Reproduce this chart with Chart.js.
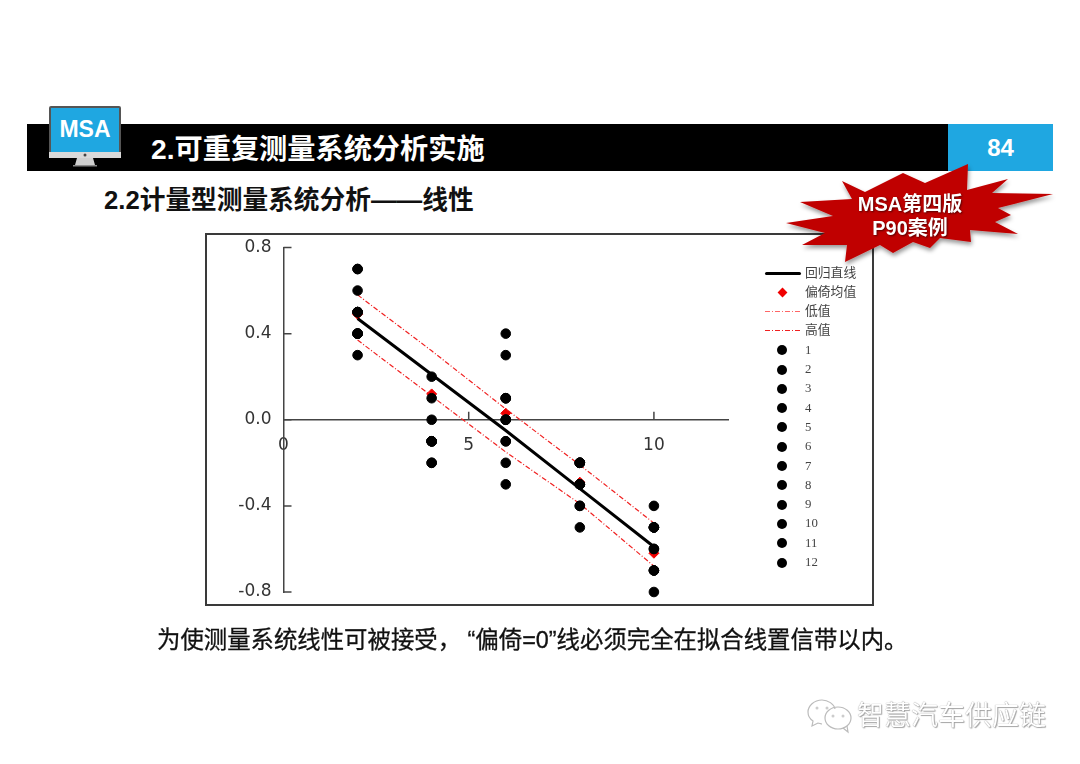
<!DOCTYPE html>
<html lang="zh">
<head>
<meta charset="utf-8">
<title>MSA 线性</title>
<script src="https://cdn.jsdelivr.net/npm/chart.js@4"></script>
<style>
    html, body { margin: 0; padding: 0; background: #fff; }
    body { width: 1080px; height: 764px; position: relative; overflow: hidden; font-family: "Liberation Sans", "Noto Sans CJK SC", sans-serif; }
    .abs { position: absolute; white-space: nowrap; }
    .bar { left: 27px; top: 124px; width: 921px; height: 47px; background: #000; }
    .page { left: 948px; top: 124px; width: 105px; height: 47px; background: #1fa7e1; color: #fff; font-size: 24px; font-weight: bold; line-height: 48px; text-align: center; }
    .title { left: 151px; top: 129px; color: #fff; font-size: 28.2px; font-weight: bold; line-height: 40px; }
    .sub { left: 104px; top: 183px; color: #111; font-size: 25.7px; font-weight: bold; line-height: 34px; }
    .note { left: 157px; top: 624px; color: #111; font-size: 23.4px; line-height: 32px; -webkit-text-stroke: 0.3px #111; }
    .mark { left: 857px; top: 698px; color: #fff; font-size: 27px; line-height: 36px; text-shadow: 0 0 1px #777, 1px 1px 1px #aaa; }
    .msa { left: 51px; top: 114px; width: 68px; color: #fff; font-size: 23px; font-weight: bold; line-height: 30px; text-align: center; }
    .star { left: 850px; top: 192px; width: 120px; color: #fff; font-size: 20px; font-weight: bold; line-height: 24px; text-align: center; text-shadow: 1px 1px 2px #500; }
    #frame { left: 205px; top: 233px; width: 669px; height: 373px; box-sizing: border-box; border: 2px solid #3a3a3a; background: #fff; }
    #frame canvas { position: absolute; left: -2px; top: -2px; }
    .lg { position: absolute; left: 760px; width: 110px; height: 19px; color: #444; font-size: 12.8px; line-height: 19px; font-family: "Liberation Serif", "Noto Sans CJK SC", serif; }
    .lg span { position: absolute; left: 45px; top: 0; }
    .lg i, .lg svg { position: absolute; display: block; }
</style>
</head>
<body>
<div class="abs bar"></div>
<div class="abs page">84</div>
<svg class="abs" style="left:0;top:0" width="1080" height="764">
    <rect x="49" y="106" width="72" height="52" rx="2" fill="#555"/>
    <rect x="51" y="108" width="68" height="44" fill="#1fa7e1"/>
    <rect x="49" y="152" width="72" height="6" fill="#d9d9d9"/>
    <circle cx="85" cy="155" r="1.5" fill="#444"/>
    <path d="M77 158h16l2 7h-20z" fill="#cfcfcf"/>
    <rect x="73" y="165" width="24" height="1.5" fill="#888"/>
    <g fill="none" stroke="#bbb" stroke-width="1.2">
        <path d="M822 700c-8 0-14 6-14 12 0 4 2 7 5 9l-1 5 6-3c1 0 3 1 4 1"/>
        <path d="M822 700c6 0 12 4 13 9"/>
        <ellipse cx="838" cy="718" rx="13" ry="11"/>
        <path d="M843 728l5 4-1-6"/>
    </g>
    <g fill="#ccc">
        <circle cx="817" cy="708" r="1.5"/><circle cx="827" cy="708" r="1.5"/>
        <circle cx="833" cy="716" r="1.5"/><circle cx="843" cy="716" r="1.5"/>
    </g>
</svg>
<div class="abs msa">MSA</div>
<div class="abs title">2.可重复测量系统分析实施</div>
<div class="abs sub">2.2计量型测量系统分析——线性</div>
<div id="frame" class="abs"><canvas id="c1" width="669" height="373"></canvas></div>
<svg class="abs" style="left:0;top:0;pointer-events:none" width="1080" height="764">
    <defs><filter id="sh" x="-10%" y="-10%" width="120%" height="130%"><feDropShadow dx="1" dy="3" stdDeviation="2" flood-color="#000" flood-opacity="0.4"/></filter></defs>
    <polygon filter="url(#sh)" fill="#c00000" points="842,181 865,192 903,173 925,183 968,164 967,190 1008,179 992,193 1053,194 998,208 1011,215 995,222 1018,234 970,230 971,242 940,238 930,248 913,242 893,253 880,245 845,262 847,245 802,245 825,233 786,223 833,216 800,202 852,199"/>
</svg>
<div class="abs star">MSA第四版<br>P90案例</div>
<div id="legend"></div>
<div class="abs note">为使测量系统线性可被接受， “偏倚=0”线必须完全在拟合线置信带以内。</div>
<div class="abs mark">智慧汽车供应链</div>

<script>
const parts = [2, 4, 6, 8, 10];

// one list per trial, values at parts 2,4,6,8,10. null = off the visible axis range
const trial1 = [0.7, null, -0.2, -0.4, null];
const trial2 = [0.5, -0.1, -0.3, -0.3, -0.7];
const trial3 = [0.4, 0.2, -0.1, -0.2, -0.5];
const trial4 = [0.5, null, -0.1, -0.3, -0.7];
const trial5 = [0.7, -0.2, 0.0, -0.2, -0.6];
const trial6 = [0.3, -0.1, 0.1, -0.2, -0.5];
const trial7 = [0.5, -0.1, 0.0, -0.2, -0.5];
const trial8 = [0.5, -0.1, 0.1, -0.3, -0.5];
const trial9 = [0.4, -0.1, 0.4, -0.2, -0.4];
const trial10 = [0.4, 0.0, 0.3, -0.5, -0.8];
const trial11 = [0.6, 0.1, 0.0, -0.4, -0.7];
const trial12 = [0.4, -0.2, 0.1, -0.3, -0.6];
const trials = [trial1, trial2, trial3, trial4, trial5, trial6, trial7, trial8, trial9, trial10, trial11, trial12];

const regression = [0.47, 0.21, -0.05, -0.32, -0.59];
const biasMean = [0.49, 0.12, 0.03, -0.29, -0.62];
const lowBand = [0.37, 0.11, -0.15, -0.39, -0.68];
const highBand = [0.58, 0.32, 0.05, -0.21, -0.48];

const xTicks = [0, 5, 10];
const yTicks = [-0.8, -0.4, 0, 0.4, 0.8];
const legendNames = ['回归直线', '偏倚均值', '低值', '高值', '1', '2', '3', '4', '5', '6', '7', '8', '9', '10', '11', '12'];

const toPts = vals => vals.map((v, i) => ({ x: parts[i], y: v }));
const tickFont = { family: '"DejaVu Sans"', size: 17 };
// keep the tick labels from pushing the plot area inwards
const noAutoPad = s => { s.paddingTop = 0; s.paddingBottom = 0; s.paddingLeft = 0; s.paddingRight = 0; };

const innerTicks = {
    id: 'innerTicks',
    afterDatasetsDraw(chart) {
        const { ctx, scales: { x, y } } = chart;
        ctx.save();
        ctx.strokeStyle = '#444';
        ctx.lineWidth = 1.5;
        ctx.beginPath();
        yTicks.forEach(v => {
            const py = y.getPixelForValue(v);
            ctx.moveTo(x.left, py);
            ctx.lineTo(x.left + 8, py);
        });
        xTicks.slice(1).forEach(v => {
            const px = x.getPixelForValue(v);
            ctx.moveTo(px, y.getPixelForValue(0));
            ctx.lineTo(px, y.getPixelForValue(0) - 8);
        });
        ctx.stroke();
        ctx.restore();
    }
};

const datasets = [
    { label: '回归直线', data: toPts(regression), showLine: true, borderColor: '#000', borderWidth: 3, pointRadius: 0, order: 1 },
    ...trials.map((t, i) => ({ label: String(i + 1), data: toPts(t), backgroundColor: '#000', borderColor: '#000', pointRadius: 4.8, order: 2 })),
    { label: '偏倚均值', data: toPts(biasMean), backgroundColor: '#f00000', borderColor: '#f00000', pointStyle: 'rectRot', pointRadius: 5, order: 3 },
    { label: '低值', data: toPts(lowBand), showLine: true, borderColor: '#f02020', borderWidth: 1.2, borderDash: [5, 2, 1, 2], pointRadius: 0, order: 4 },
    { label: '高值', data: toPts(highBand), showLine: true, borderColor: '#f02020', borderWidth: 1.2, borderDash: [5, 2, 1, 2], pointRadius: 0, order: 4 }
];
datasets.forEach(d => { d.clip = false; });

new Chart(document.getElementById('c1'), {
    type: 'scatter',
    data: { datasets },
    plugins: [innerTicks],
    options: {
        responsive: false,
        animation: false,
        layout: { padding: { top: 14.5, bottom: 14, left: 0, right: 146 } },
        plugins: { legend: { display: false }, tooltip: { enabled: false } },
        scales: {
            x: {
                type: 'linear',
                min: 0,
                max: 12,
                position: { y: 0 },
                grid: { display: false, drawTicks: false },
                border: { color: '#444', width: 1.5 },
                afterBuildTicks: s => { s.ticks = xTicks.map(v => ({ value: v })); },
                afterFit: noAutoPad,
                ticks: { color: '#333', font: tickFont, padding: 16, maxRotation: 0, callback: v => String(v) }
            },
            y: {
                min: -0.8,
                max: 0.8,
                grid: { display: false, drawTicks: false },
                border: { color: '#444', width: 1.5 },
                afterBuildTicks: s => { s.ticks = yTicks.map(v => ({ value: v })); },
                afterFit: s => { s.width = 78.5; noAutoPad(s); },
                ticks: { color: '#333', font: tickFont, padding: 12, callback: v => v.toFixed(1) }
            }
        }
    }
});

// legend sits in the frame's right column
const legendBox = document.getElementById('legend');
legendNames.forEach((name, i) => {
    const row = document.createElement('div');
    row.className = 'lg';
    row.style.top = (263.5 + i * 19.3) + 'px';
    let key;
    if (i === 0) key = '<i style="left:5px;top:8px;width:36px;height:3px;border-radius:2px;background:#000"></i>';
    else if (i === 1) key = '<i style="left:19px;top:6px;width:7px;height:7px;background:#f00000;transform:rotate(45deg)"></i>';
    else if (i < 4) key = '<svg style="left:5px;top:8px" width="36" height="3"><line x1="0" y1="1.5" x2="36" y2="1.5" stroke="' + (i === 2 ? '#f66' : '#f02020') + '" stroke-width="1.2" stroke-dasharray="5 2 1 2"/></svg>';
    else key = '<i style="left:17px;top:4.5px;width:10px;height:10px;border-radius:50%;background:#000"></i>';
    row.innerHTML = key + '<span>' + name + '</span>';
    legendBox.appendChild(row);
});
</script>
</body>
</html>
